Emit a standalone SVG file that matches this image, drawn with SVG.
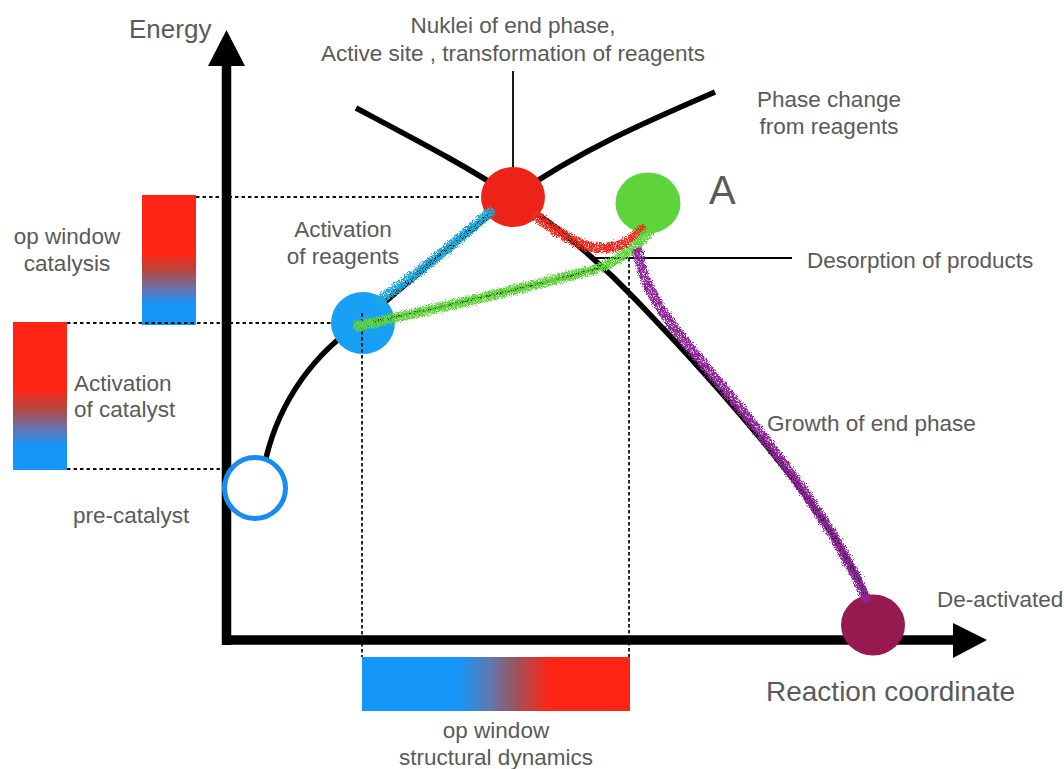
<svg xmlns="http://www.w3.org/2000/svg" width="1064" height="769" viewBox="0 0 1064 769">
<style>
.lbl{font-family:"Liberation Sans",Arial,sans-serif;font-size:22.5px;fill:#5a5a5a}
.big{font-family:"Liberation Sans",Arial,sans-serif;fill:#5a5a5a}
.curve{fill:none;stroke:#000;stroke-width:5.5;stroke-linecap:butt}
.axis{fill:none;stroke:#000;stroke-width:9.5}
.dot{fill:none;stroke:#111;stroke-width:2;stroke-dasharray:3.5 3}
.vdot{fill:none;stroke:#111;stroke-width:1.8;stroke-dasharray:3.5 2.5}
.thin{fill:none;stroke:#000;stroke-width:1.8}
.trail{fill:none;stroke-width:10;stroke-linecap:round;filter:url(#rough)}
</style>
<defs>
<filter id="rough" filterUnits="userSpaceOnUse" x="0" y="0" width="1064" height="769">
<feTurbulence type="fractalNoise" baseFrequency="0.9" numOctaves="3" seed="4" result="n"/>
<feDisplacementMap in="SourceGraphic" in2="n" scale="7" xChannelSelector="R" yChannelSelector="G" result="d"/>
<feTurbulence type="fractalNoise" baseFrequency="1.4" numOctaves="1" seed="9" result="m"/>
<feColorMatrix in="m" type="matrix" values="0 0 0 0 0  0 0 0 0 0  0 0 0 0 0  0 0 0 -5 3.6" result="mask"/>
<feComposite in="d" in2="mask" operator="in"/>
</filter>
<linearGradient id="gv" x1="0" y1="0" x2="0" y2="1">
<stop offset="0" stop-color="#ff2414"/>
<stop offset="0.45" stop-color="#ff2414"/>
<stop offset="0.58" stop-color="#b9463f"/>
<stop offset="0.72" stop-color="#6a72ad"/>
<stop offset="0.84" stop-color="#1696f8"/>
<stop offset="1" stop-color="#1696f8"/>
</linearGradient>
<linearGradient id="gh" x1="0" y1="0" x2="1" y2="0">
<stop offset="0" stop-color="#1696f8"/>
<stop offset="0.36" stop-color="#1696f8"/>
<stop offset="0.47" stop-color="#5a7ab5"/>
<stop offset="0.58" stop-color="#a15159"/>
<stop offset="0.7" stop-color="#ff2414"/>
<stop offset="1" stop-color="#ff2414"/>
</linearGradient>
</defs>
<rect width="1064" height="769" fill="#fff"/>

<g id="axes">
<line class="axis" x1="226.5" y1="645" x2="226.5" y2="62"/>
<polygon points="226.5,30 208,66 245,66" fill="#000"/>
<line class="axis" x1="222" y1="640" x2="957" y2="640"/>
<polygon points="987,640 953,623 953,658" fill="#000"/>
<text class="big" x="129" y="38" font-size="26">Energy</text>
<text class="big" x="766" y="701" font-size="28">Reaction coordinate</text>
</g>

<g id="bars">
<rect x="142" y="195" width="54" height="130" fill="url(#gv)"/>
<rect x="13" y="322" width="54" height="148" fill="url(#gv)"/>
<rect x="362" y="657" width="268" height="54" fill="url(#gh)"/>
<text class="lbl" text-anchor="middle" x="67" y="244">op window</text>
<text class="lbl" text-anchor="middle" x="67" y="271">catalysis</text>
<text class="lbl" x="74" y="391">Activation</text>
<text class="lbl" x="74" y="417">of catalyst</text>
<text class="lbl" text-anchor="middle" x="496" y="738">op window</text>
<text class="lbl" text-anchor="middle" x="496" y="765">structural dynamics</text>
</g>

<g id="energy-curves">
<path class="curve" d="M356,108 C420,142 470,168 513,197 C560,228 598,260 636,300 C690,356 745,418 790,475 C825,520 850,560 868,600"/>
<path class="curve" d="M266,458 C280,400 315,352 362,322 C410,280 460,238 513,197 C580,150 650,120 715,92"/>
</g>

<g id="node-precatalyst">
<circle cx="255" cy="488" r="30.5" fill="#fff" stroke="#1a8cee" stroke-width="5"/>
<text class="lbl" x="73" y="523">pre-catalyst</text>
</g>
<g id="node-activation">
<ellipse cx="363" cy="323" rx="32" ry="31" fill="#17a0f6"/>
<text class="lbl" text-anchor="middle" x="343" y="237">Activation</text>
<text class="lbl" text-anchor="middle" x="343" y="264">of reagents</text>
</g>
<g id="node-nuklei">
<ellipse cx="513" cy="197" rx="32" ry="30" fill="#ed2218"/>
<text class="lbl" text-anchor="middle" x="513" y="33">Nuklei of end phase,</text>
<text class="lbl" text-anchor="middle" x="513" y="61">Active site , transformation of reagents</text>
</g>
<g id="node-A">
<ellipse cx="648" cy="203" rx="32.5" ry="30.5" fill="#5fd43a"/>
<text class="big" x="709" y="204" font-size="40">A</text>
</g>
<g id="node-deactivated">
<ellipse cx="873" cy="625" rx="32" ry="30.5" fill="#961a4f"/>
<text class="lbl" x="937" y="607">De-activated</text>
</g>
<g id="label-phase-change">
<text class="lbl" text-anchor="middle" x="829" y="107">Phase change</text>
<text class="lbl" text-anchor="middle" x="829" y="134">from reagents</text>
</g>
<g id="label-desorption">
<text class="lbl" x="807" y="268">Desorption of products</text>
</g>
<g id="label-growth">
<text class="lbl" x="767" y="431">Growth of end phase</text>
</g>

<g id="connectors">
<line class="dot" x1="196" y1="197" x2="482" y2="197"/>
<line class="dot" x1="67" y1="323" x2="332" y2="323"/>
<line class="dot" x1="67" y1="469" x2="222" y2="469"/>
<line class="vdot" x1="362" y1="313" x2="362" y2="657"/>
<line class="vdot" x1="629" y1="258" x2="629" y2="657"/>
<line class="thin" x1="513" y1="71" x2="513" y2="167"/>
<line class="thin" x1="590" y1="258" x2="792" y2="258"/>
<path class="trail" stroke="#23a8d8" d="M380,300 Q431,264 490,212"/>
<path class="trail" stroke="#f0291a" d="M536,216 C560,235 585,250 605,248 S632,240 642,230"/>
<path fill="none" stroke="#000" stroke-width="2.5" d="M372,322 Q510,292 600,268"/>
<path class="trail" stroke="#5ed43a" d="M358,326 Q510,292 600,268 Q630,255 648,233"/>
<path class="trail" stroke="#90259a" d="M638,252 C645,300 682,338 730,396 S832,522 866,598"/>
</g>
</svg>
